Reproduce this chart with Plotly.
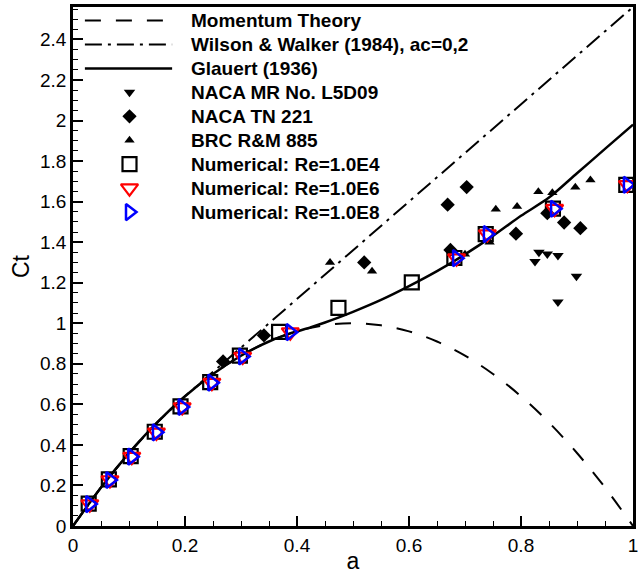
import plotly.graph_objects as go

# ---------------- data ----------------
# Momentum theory
MT_A = [0, 0.05, 0.1, 0.15, 0.2, 0.25, 0.3, 0.35, 0.4, 0.45, 0.5,
        0.55, 0.6, 0.65, 0.7, 0.75, 0.8, 0.85, 0.9, 0.95, 1.0]
MT_CT = [0, 0.19, 0.36, 0.51, 0.64, 0.75, 0.84, 0.91, 0.96, 0.99, 1.0,
         0.99, 0.96, 0.91, 0.84, 0.75, 0.64, 0.51, 0.36, 0.19, 0]

# Wilson & Walker (1984), ac=0,2
WW_A = [0, 0.05, 0.1, 0.15, 0.2, 1.0]
WW_CT = [0, 0.19, 0.36, 0.51, 0.64, 2.56]

# Glauert (1936)
GL_A = [0, 0.05, 0.1, 0.15, 0.2, 0.25, 0.3, 0.325, 0.35, 0.375, 0.4, 0.425,
        0.45, 0.475, 0.5, 0.55, 0.6, 0.65, 0.7, 0.75, 0.8, 0.85, 0.9, 0.95, 1.0]
GL_CT = [0, 0.19, 0.36, 0.51, 0.64, 0.75, 0.84, 0.8775, 0.91, 0.9375, 0.96, 0.981,
         1.004, 1.029, 1.056, 1.115, 1.183, 1.257, 1.34, 1.431, 1.53, 1.62,
         1.74, 1.86, 1.98]

# NACA MR No. L5D09
MR_A = [0.825, 0.832, 0.847, 0.866, 0.899, 0.866]
MR_CT = [1.305, 1.35, 1.342, 1.334, 1.232, 1.105]

# NACA TN 221
TN_A = [0.268, 0.341, 0.52, 0.669, 0.674, 0.703, 0.791, 0.847, 0.877, 0.906]
TN_CT = [0.812, 0.94, 1.30, 1.585, 1.362, 1.672, 1.442, 1.543, 1.497, 1.469]

# BRC R&M 885
BRC_A = [0.459, 0.534, 0.70, 0.744, 0.755, 0.793, 0.831, 0.856, 0.897, 0.924]
BRC_CT = [1.30, 1.256, 1.34, 1.40, 1.563, 1.576, 1.649, 1.644, 1.671, 1.707]

# Numerical Re=1.0E4
N4_A = [0.028, 0.064, 0.103, 0.146, 0.192, 0.245, 0.298, 0.368, 0.474,
        0.605, 0.681, 0.737, 0.857, 0.988]
N4_CT = [0.11, 0.23, 0.345, 0.465, 0.59, 0.71, 0.84, 0.958, 1.076,
         1.202, 1.322, 1.44, 1.565, 1.683]

# Numerical Re=1.0E6
N6_A = [0.03, 0.066, 0.105, 0.149, 0.195, 0.248, 0.303, 0.388, 0.685,
        0.74, 0.86, 0.99]
N6_CT = [0.108, 0.227, 0.342, 0.462, 0.587, 0.707, 0.836, 0.956, 1.321,
         1.44, 1.565, 1.683]

# Numerical Re=1.0E8
N8_A = [0.03, 0.066, 0.105, 0.149, 0.195, 0.248, 0.303, 0.388, 0.685,
        0.74, 0.86, 0.99]
N8_CT = [0.108, 0.227, 0.342, 0.462, 0.587, 0.707, 0.836, 0.956, 1.321,
         1.44, 1.565, 1.683]

X_TICKS = [0, 0.2, 0.4, 0.6, 0.8, 1.0]
X_TICKTEXT = ["0", "0.2", "0.4", "0.6", "0.8", "1"]
Y_TICKS = [0, 0.2, 0.4, 0.6, 0.8, 1.0, 1.2, 1.4, 1.6, 1.8, 2.0, 2.2, 2.4]
Y_TICKTEXT = ["0", "0.2", "0.4", "0.6", "0.8", "1", "1.2", "1.4", "1.6",
              "1.8", "2", "2.2", "2.4"]

LEGEND_LABELS = ["Momentum Theory", "Wilson & Walker (1984), ac=0,2",
                 "Glauert (1936)", "NACA MR No. L5D09", "NACA TN 221",
                 "BRC R&M 885", "Numerical: Re=1.0E4",
                 "Numerical: Re=1.0E6", "Numerical: Re=1.0E8"]

# ---------------- layout geometry ----------------
W, H = 638, 574
ML, MR, MT, MB = 73, 0, 7, 47
PW, PH = W - ML - MR, H - MT - MB

def px_x(p):
    return (p - ML) / PW

def px_y(p):
    return (H - MB - p) / PH

FONT = "Liberation Sans, Arial, sans-serif"

DASH_MT = "16px,15px"
DASH_WW = "17px,6px,3px,6px"

fig = go.Figure()

# theory lines
fig.add_trace(go.Scatter(x=MT_A, y=MT_CT, mode="lines", line_shape="spline",
                         line=dict(color="black", width=2, dash=DASH_MT),
                         showlegend=False))
fig.add_trace(go.Scatter(x=WW_A, y=WW_CT, mode="lines",
                         line=dict(color="black", width=2, dash=DASH_WW),
                         showlegend=False))
fig.add_trace(go.Scatter(x=GL_A, y=GL_CT, mode="lines", line_shape="spline",
                         line=dict(color="black", width=2.5, smoothing=0.8),
                         showlegend=False))

# experimental data
STY_MR = dict(symbol="triangle-down", size=10, color="black")
STY_TN = dict(symbol="diamond", size=11, color="black")
STY_BRC = dict(symbol="triangle-up", size=9, color="black")
STY_N4 = dict(symbol="square-open", size=14, color="black", line=dict(width=2.2, color="black"))
STY_N6 = dict(symbol="triangle-down-open", size=15, color="red", line=dict(width=2.2, color="red"))
STY_N8 = dict(symbol="triangle-right-open", size=14, color="blue", line=dict(width=2.5, color="blue"))

fig.add_trace(go.Scatter(x=MR_A, y=MR_CT, mode="markers", marker=STY_MR, showlegend=False))
fig.add_trace(go.Scatter(x=TN_A, y=TN_CT, mode="markers", marker=STY_TN, showlegend=False))
fig.add_trace(go.Scatter(x=BRC_A, y=BRC_CT, mode="markers", marker=STY_BRC, showlegend=False))
fig.add_trace(go.Scatter(x=N4_A, y=N4_CT, mode="markers", marker=STY_N4, showlegend=False))
fig.add_trace(go.Scatter(x=N6_A, y=N6_CT, mode="markers", marker=STY_N6, showlegend=False))
fig.add_trace(go.Scatter(x=N8_A, y=N8_CT, mode="markers", marker=STY_N8, showlegend=False))

# ---------------- hand-made legend (matches the reference style) ----------------
ROW_PX = [20.5, 44.5, 68.5, 92.5, 116.5, 140.5, 164.5, 188.5, 212.5]
rows = [px_y(r) for r in ROW_PX]
SAMPLE_X0, SAMPLE_X1, SYMBOL_X, TEXT_X = px_x(85), px_x(173), px_x(130), px_x(190)

for i, dash in enumerate([DASH_MT, DASH_WW, "solid"]):
    fig.add_shape(type="line", xref="paper", yref="paper",
                  x0=SAMPLE_X0, x1=SAMPLE_X1, y0=rows[i], y1=rows[i],
                  line=dict(color="black", width=2.5 if i == 2 else 2, dash=dash))

for i, sty in zip(range(3, 9), [STY_MR, STY_TN, STY_BRC, STY_N4, STY_N6, STY_N8]):
    fig.add_trace(go.Scatter(x=[SYMBOL_X], y=[rows[i]], xaxis="x2", yaxis="y2",
                             mode="markers", marker=sty, showlegend=False,
                             hoverinfo="skip"))

for i, lab in enumerate(LEGEND_LABELS):
    fig.add_annotation(xref="paper", yref="paper", x=TEXT_X, y=rows[i],
                       text="<b>" + lab + "</b>", showarrow=False,
                       xanchor="left", yanchor="middle",
                       font=dict(family=FONT, size=19, color="black"))

axis_common = dict(showgrid=False, zeroline=False, showline=True, linecolor="black",
                   linewidth=2.5, mirror=True, ticks="inside", tickcolor="black",
                   tickwidth=2, ticklen=10,
                   minor=dict(ticks="inside", ticklen=5, tickwidth=1.2,
                              tickcolor="black", dtick=0.05),
                   tickfont=dict(family=FONT, size=19, color="black"))

fig.update_layout(
    width=W, height=H,
    margin=dict(l=ML, r=MR, t=MT, b=MB),
    plot_bgcolor="white", paper_bgcolor="white",
    xaxis=dict(range=[0, 1.0], tickvals=X_TICKS, ticktext=X_TICKTEXT,
               ticklabeloverflow="allow",
               title=dict(text="a", font=dict(family=FONT, size=23, color="black"),
                          standoff=2),
               **axis_common),
    yaxis=dict(range=[0, 2.56], tickvals=Y_TICKS, ticktext=Y_TICKTEXT,
               title=dict(text="Ct", font=dict(family=FONT, size=23, color="black"),
                          standoff=4),
               **axis_common),
    xaxis2=dict(overlaying="x", range=[0, 1], visible=False),
    yaxis2=dict(overlaying="y", range=[0, 1], visible=False),
    showlegend=False,
)

fig.write_html("out.html")
